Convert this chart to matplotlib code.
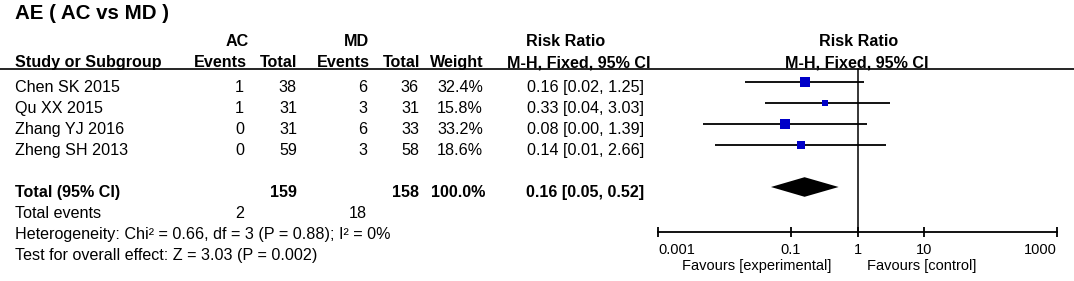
import matplotlib
matplotlib.use("Agg")
import matplotlib.pyplot as plt
import numpy as np

plt.rcParams['font.family'] = ['Liberation Sans', 'DejaVu Sans']

# ---------------- data ----------------
title = "AE ( AC vs MD )"
studies = ["Chen SK 2015", "Qu XX 2015", "Zhang YJ 2016", "Zheng SH 2013"]
ac_events = [1, 1, 0, 0]
ac_total = [38, 31, 31, 59]
md_events = [6, 3, 6, 3]
md_total = [36, 31, 33, 58]
weights = [32.4, 15.8, 33.2, 18.6]
rr = [0.16, 0.33, 0.08, 0.14]
ci_low = [0.02, 0.04, 0.0047, 0.0073]
ci_high = [1.25, 3.03, 1.39, 2.66]
pooled_rr = 0.16
pooled_low = 0.05
pooled_high = 0.52
total_label = "Total (95% CI)"
total_events_ac = 2
total_events_md = 18
heterogeneity = "Heterogeneity: Chi² = 0.66, df = 3 (P = 0.88); I² = 0%"
overall = "Test for overall effect: Z = 3.03 (P = 0.002)"
xticks = [0.001, 0.1, 1, 10, 1000]
xtick_labels = ["0.001", "0.1", "1", "10", "1000"]
fav_left = "Favours [experimental]"
fav_right = "Favours [control]"

# ---------------- layout ----------------
W, H = 1074, 281
fig = plt.figure(figsize=(W / 100, H / 100), dpi=100)
fig.patch.set_facecolor('white')

tab = fig.add_axes([0, 0, 1, 1])
tab.set_xlim(0, W)
tab.set_ylim(H, 0)
tab.axis('off')

FS = 11.6
FS_AX = 10.5
row0 = 86.0
pitch = 21.1
base_off = 5.6  # baseline offset from visual centre


def row_y(i):
    return row0 + pitch * i


def txt(x, y, s, ha='left', bold=False, size=FS):
    tab.text(x, y + base_off * size / FS, s, ha=ha, va='baseline', fontsize=size,
             fontweight='bold' if bold else 'normal', color='black')


# title
txt(15, 12, title, bold=True, size=14.8)

# group headers
hy1, hy2 = 40, 61.5
txt(237, hy1, "AC", ha='center', bold=True)
txt(356, hy1, "MD", ha='center', bold=True)
txt(566, hy1, "Risk Ratio", ha='center', bold=True)
txt(859, hy1, "Risk Ratio", ha='center', bold=True)

col_ace, col_act, col_mde, col_mdt, col_w, col_rr = 246, 297, 369, 419, 484, 644
txt(15, hy2, "Study or Subgroup", bold=True)
txt(col_ace + 1, hy2, "Events", ha='right', bold=True)
txt(col_act, hy2, "Total", ha='right', bold=True)
txt(col_mde + 1, hy2, "Events", ha='right', bold=True)
txt(col_mdt + 1, hy2, "Total", ha='right', bold=True)
txt(col_w, hy2, "Weight", ha='right', bold=True)
txt(507, hy2, "M-H, Fixed, 95% CI", ha='left', bold=True)
txt(857, hy2, "M-H, Fixed, 95% CI", ha='center', bold=True)
tab.plot([0, W], [68.5, 68.5], color='black', lw=1.2, solid_capstyle='butt')

for i, s in enumerate(studies):
    y = row_y(i)
    txt(15, y, s)
    txt(col_ace - 2, y, str(ac_events[i]), ha='right')
    txt(col_act, y, str(ac_total[i]), ha='right')
    txt(col_mde - 2, y, str(md_events[i]), ha='right')
    txt(col_mdt, y, str(md_total[i]), ha='right')
    txt(col_w - 1, y, f"{weights[i]:.1f}%", ha='right')
    txt(col_rr, y, f"{rr[i]:.2f} [{ci_low[i]:.2f}, {ci_high[i]:.2f}]", ha='right')

yt = row_y(5)
txt(15, yt, total_label, bold=True)
txt(col_act, yt, str(sum(ac_total)), ha='right', bold=True)
txt(col_mdt, yt, str(sum(md_total)), ha='right', bold=True)
txt(col_w + 1, yt, f"{sum(weights):.1f}%", ha='right', bold=True)
txt(col_rr, yt, f"{pooled_rr:.2f} [{pooled_low:.2f}, {pooled_high:.2f}]", ha='right', bold=True)

ye = row_y(6)
txt(15, ye, "Total events")
txt(col_ace - 2, ye, str(total_events_ac), ha='right')
txt(col_mde - 2, ye, str(total_events_md), ha='right')
txt(15, row_y(7), heterogeneity)
txt(15, row_y(8), overall)

# ---------------- forest axes ----------------
x0, x1 = 658, 1057
ytop, ybot = 68.5, 232
fa = fig.add_axes([x0 / W, 1 - ybot / H, (x1 - x0) / W, (ybot - ytop) / H])
fa.patch.set_alpha(0)
fa.set_xscale('log')
fa.set_xlim(xticks[0], xticks[-1])
line_off = 4.5
ylo = (ybot - (row0 - line_off)) / pitch
yhi = (ytop - (row0 - line_off)) / pitch
fa.set_ylim(ylo, yhi)
for sp in ['top', 'left', 'right']:
    fa.spines[sp].set_visible(False)
fa.spines['bottom'].set_linewidth(1.3)
fa.set_yticks([])
fa.set_xticks(xticks)
fa.set_xticklabels(xtick_labels)
fa.xaxis.set_minor_locator(matplotlib.ticker.NullLocator())
fa.tick_params(axis='x', direction='inout', length=7.2, width=1.3, pad=4.5,
               labelsize=FS_AX)
tl = fa.get_xticklabels()
tl[0].set_horizontalalignment('left')
tl[-1].set_horizontalalignment('right')

# null line
fa.plot([1, 1], [ylo, yhi], color='black', lw=1.1, clip_on=False)

wmax = max(weights)
for i in range(len(studies)):
    fa.plot([ci_low[i], ci_high[i]], [i, i], color='black', lw=1.3, solid_capstyle='butt')
    side_px = 3.5 + 6.5 * weights[i] / wmax
    fa.plot([rr[i]], [i], marker='s', markersize=side_px * 0.72,
            color='#0000C8', markeredgewidth=0, linestyle='none')

# pooled diamond
dh = 9.8 / pitch
fa.fill([pooled_low, pooled_rr, pooled_high, pooled_rr],
        [5, 5 - dh, 5, 5 + dh], color='black', lw=0)

# favours labels
fy = 265
tab.text(831, fy + 5.1, fav_left, ha='right', va='baseline', fontsize=FS_AX)
tab.text(867, fy + 5.1, fav_right, ha='left', va='baseline', fontsize=FS_AX)

fig.savefig("out.png", dpi=100, facecolor='white')
